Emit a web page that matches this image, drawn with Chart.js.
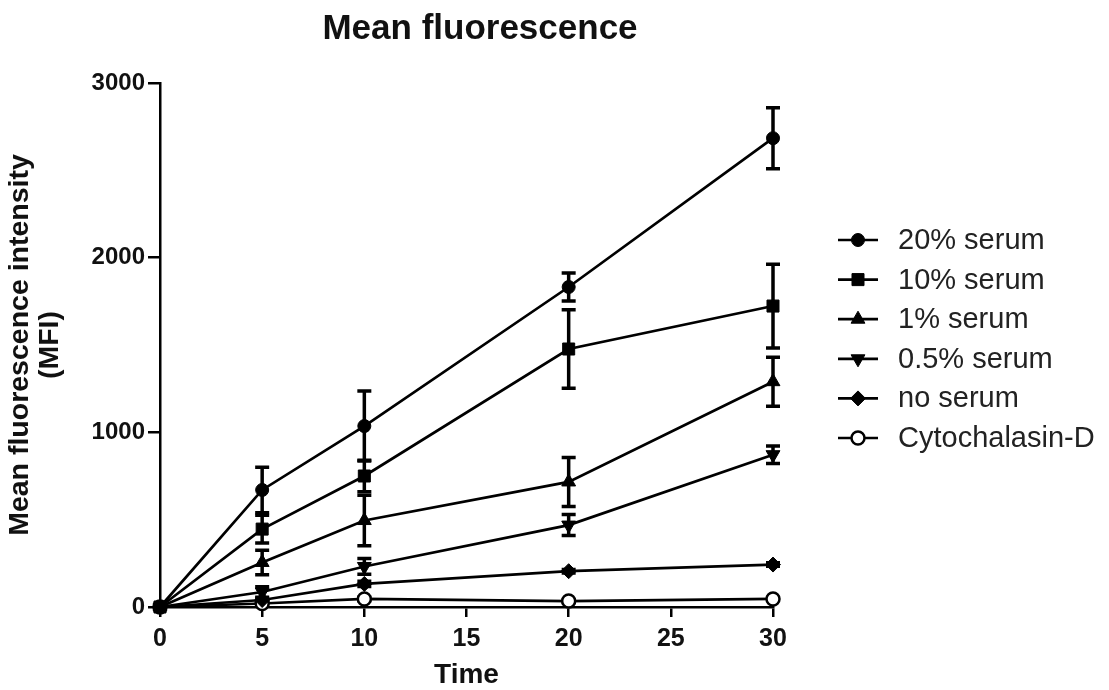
<!DOCTYPE html>
<html>
<head>
<meta charset="utf-8">
<script src="https://cdn.jsdelivr.net/npm/chart.js@4/dist/chart.umd.min.js"></script>
<style>
  html, body { margin: 0; padding: 0; background: #fff; }
</style>
</head>
<body>
<canvas id="chart" width="1109" height="690"></canvas>
<script>
const times = [0, 5, 10, 20, 30];

const serum20 = [0, 670, 1036, 1832, 2684];
const serum20Err = [0, 130, 200, 80, 175];
const serum10 = [0, 446, 750, 1477, 1723];
const serum10Err = [0, 80, 90, 225, 240];
const serum1 = [0, 255, 495, 716, 1290];
const serum1Err = [0, 70, 145, 140, 140];
const serum05 = [0, 86, 232, 469, 872];
const serum05Err = [0, 30, 45, 60, 50];
const noSerum = [0, 40, 132, 205, 243];
const noSerumErr = [0, 10, 15, 10, 10];
const cytoD = [0, 20, 46, 34, 46];
const cytoDErr = [0, 8, 10, 8, 8];

const xTickValues = [0, 5, 10, 15, 20, 25, 30];
const yTickValues = [0, 1000, 2000, 3000];

const FONT = '"Liberation Sans", Arial, Helvetica, sans-serif';

function series(label, values, errors, style, extra) {
  return Object.assign({
    label: label,
    data: times.map((t, i) => ({ x: t, y: values[i] })),
    errors: errors,
    borderColor: '#000',
    backgroundColor: '#000',
    pointBackgroundColor: '#000',
    pointBorderColor: '#000',
    borderWidth: 2.7,
    pointBorderWidth: 1,
    pointStyle: style,
    pointRadius: 7,
    pointRotation: 0,
    tension: 0,
    clip: false
  }, extra || {});
}

// vertical error bars, drawn under the markers
const errorBars = {
  id: 'errorBars',
  beforeDatasetsDraw(chart) {
    const { ctx, scales: { x, y } } = chart;
    ctx.save();
    ctx.strokeStyle = '#000';
    ctx.lineWidth = 3.5;
    chart.data.datasets.forEach(ds => {
      ds.data.forEach((p, i) => {
        const e = ds.errors[i];
        if (!e) return;
        const px = x.getPixelForValue(p.x);
        const top = y.getPixelForValue(p.y + e);
        const bot = y.getPixelForValue(p.y - e);
        ctx.beginPath();
        ctx.moveTo(px, top); ctx.lineTo(px, bot);
        ctx.moveTo(px - 7, top); ctx.lineTo(px + 7, top);
        ctx.moveTo(px - 7, bot); ctx.lineTo(px + 7, bot);
        ctx.stroke();
      });
    });
    ctx.restore();
  }
};

// title + legend with line-and-marker samples
const decorations = {
  id: 'decorations',
  afterDraw(chart) {
    const { ctx } = chart;
    ctx.save();
    ctx.fillStyle = '#111';
    ctx.font = 'bold 35px ' + FONT;
    ctx.textAlign = 'center';
    ctx.textBaseline = 'middle';
    ctx.fillText('Mean fluorescence', 480, 29);

    ctx.textAlign = 'left';
    chart.data.datasets.forEach((ds, i) => {
      const cy = 240 + i * 39.6;
      ctx.strokeStyle = '#000';
      ctx.lineWidth = 2.7;
      ctx.beginPath();
      ctx.moveTo(838, cy);
      ctx.lineTo(878, cy);
      ctx.stroke();
      ctx.fillStyle = ds.pointBackgroundColor;
      ctx.strokeStyle = '#000';
      ctx.lineWidth = ds.pointBorderWidth;
      Chart.helpers.drawPoint(ctx, {
        pointStyle: ds.pointStyle,
        rotation: ds.pointRotation,
        radius: ds.pointRadius,
        borderWidth: ds.pointBorderWidth
      }, 858, cy);
      ctx.fillStyle = '#222';
      ctx.font = '29px ' + FONT;
      ctx.fillText(ds.label, 898, cy + 1);
    });
    ctx.restore();
  }
};

new Chart(document.getElementById('chart'), {
  type: 'line',
  data: {
    datasets: [
      series('20% serum', serum20, serum20Err, 'circle', { pointRadius: 6.5 }),
      series('10% serum', serum10, serum10Err, 'rect', { pointRadius: 8.5 }),
      series('1% serum', serum1, serum1Err, 'triangle', { pointRadius: 8 }),
      series('0.5% serum', serum05, serum05Err, 'triangle', { pointRadius: 8, pointRotation: 180 }),
      series('no serum', noSerum, noSerumErr, 'rectRot', { pointRadius: 7.5 }),
      series('Cytochalasin-D', cytoD, cytoDErr, 'circle', {
        pointRadius: 6.5, pointBackgroundColor: '#fff', pointBorderWidth: 2.5
      })
    ]
  },
  options: {
    responsive: false,
    devicePixelRatio: 1,
    animation: false,
    layout: { padding: { top: 83, right: 336, bottom: 0, left: 0 } },
    plugins: {
      legend: { display: false },
      title: { display: false },
      tooltip: { enabled: false }
    },
    scales: {
      x: {
        type: 'linear',
        min: 0,
        max: 30,
        afterFit(scale) { scale.height = 83; },
        afterBuildTicks(scale) { scale.ticks = xTickValues.map(v => ({ value: v })); },
        border: { color: '#000', width: 2.5 },
        grid: { drawOnChartArea: false, color: '#000', lineWidth: 2.5, tickLength: 10 },
        ticks: {
          color: '#111',
          padding: 7,
          maxRotation: 0,
          callback: v => String(v),
          font: { family: FONT, size: 25, weight: 'bold' }
        },
        title: {
          display: true,
          text: 'Time',
          color: '#111',
          padding: { top: 0, bottom: 1 },
          font: { family: FONT, size: 28, weight: 'bold', lineHeight: 1 }
        }
      },
      y: {
        min: 0,
        max: 3000,
        afterFit(scale) { scale.width = 160; },
        afterBuildTicks(scale) { scale.ticks = yTickValues.map(v => ({ value: v })); },
        border: { color: '#000', width: 2.5 },
        grid: { drawOnChartArea: false, color: '#000', lineWidth: 2.5, tickLength: 12 },
        ticks: {
          color: '#111',
          padding: 3,
          callback: v => String(v),
          font: { family: FONT, size: 24, weight: 'bold' }
        },
        title: {
          display: true,
          text: ['Mean fluorescence intensity', '(MFI)'],
          color: '#111',
          padding: { top: 5, bottom: 0 },
          font: { family: FONT, size: 28.5, weight: 'bold', lineHeight: 1.05 }
        }
      }
    }
  },
  plugins: [errorBars, decorations]
});
</script>
</body>
</html>
